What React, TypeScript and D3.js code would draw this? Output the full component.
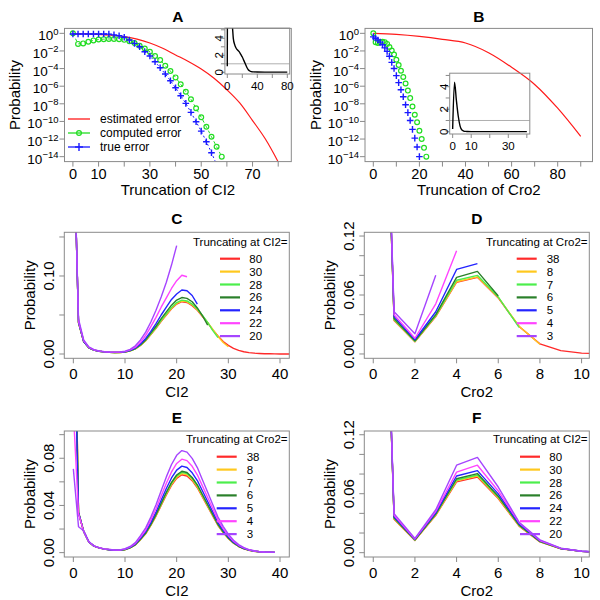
import React from "react";
import * as d3 from "d3";

const FONT = "'Liberation Sans', Arial, Helvetica, sans-serif";
const GRAY = "#8a8a8a";

// ---------------- Panel A (log10 of probability) ----------------
const aRedX = [0, 5, 10, 15, 20, 25, 30, 35, 40, 45, 50, 55, 60, 65, 70, 75, 80, 85];
const aRedLog = [-0.05, -0.07, -0.12, -0.22, -0.38, -0.65, -1.1, -1.7, -2.45, -3.2, -4.05, -5.1, -6.4, -7.9, -9.9, -12.0, -14.6, -17.5];
const aGreenX = [0, 2, 4, 6, 8, 10, 12, 14, 16, 18, 20, 22, 24, 26, 28, 30, 32, 34, 36, 38, 40, 42, 44, 46, 48, 50, 52, 54, 56, 58];
const aGreenLog = [0, -1.2, -1.14, -0.95, -0.8, -0.7, -0.66, -0.64, -0.64, -0.66, -0.74, -0.9, -1.1, -1.4, -1.72, -2.09, -2.58, -3.03, -3.68, -4.28, -5.0, -5.79, -6.63, -7.49, -8.51, -9.53, -10.6, -11.74, -12.87, -14.0];
const aBlueX = [0, 2, 4, 6, 8, 10, 12, 14, 16, 18, 20, 22, 24, 26, 28, 30, 32, 34, 36, 38, 40, 42, 44, 46, 48, 50, 52, 54, 56];
const aBlueLog = [-0.08, -0.08, -0.08, -0.08, -0.08, -0.08, -0.08, -0.09, -0.18, -0.28, -0.45, -0.75, -1.14, -1.52, -2.09, -2.58, -3.22, -3.9, -4.62, -5.38, -6.17, -7.08, -7.95, -8.97, -10.03, -11.1, -12.3, -13.55, -14.9];
const aInsetX = [0, 1, 3, 5, 7, 8, 10, 12, 14, 16, 18, 20, 22, 24, 26, 28, 30, 32, 35, 40, 50, 60, 70, 80];
const aInsetY = [0.7, 30, 12, 8, 5.2, 4.0, 3.2, 2.8, 2.6, 2.4, 2.1, 1.8, 1.4, 1.0, 0.6, 0.3, 0.15, 0.08, 0.05, 0.03, 0.02, 0.02, 0.02, 0.02];

// ---------------- Panel B ----------------
const bRedX = [0, 10, 20, 30, 40, 50, 60, 70, 80, 90];
const bRedLog = [0, -0.12, -0.35, -0.68, -1.1, -2.2, -3.85, -5.8, -8.5, -11.7];
const bGreenX = [0, 1, 2, 3, 4, 5, 6, 7, 8, 9, 10, 11, 12, 13, 14, 15, 16, 17, 18, 19, 20, 21, 22, 23];
const bGreenLog = [0, -1.0, -1.1, -1.0, -0.95, -1.0, -1.2, -1.55, -1.95, -2.4, -3.0, -3.6, -4.25, -4.95, -5.7, -6.5, -7.35, -8.3, -9.25, -10.1, -11.05, -12.0, -13.0, -14.0];
const bBlueX = [0, 1, 2, 3, 4, 5, 6, 7, 8, 9, 10, 11, 12, 13, 14, 15, 16, 17, 18, 19, 20];
const bBlueLog = [-0.4, -0.55, -0.75, -1.0, -1.3, -1.65, -2.05, -2.6, -3.3, -4.0, -4.8, -5.6, -6.4, -7.2, -8.1, -9.0, -9.9, -10.9, -11.9, -12.9, -14.0];
const bInsetX = [0, 1, 2, 3, 4, 5, 6, 7, 8, 10, 15, 20, 30, 40];
const bInsetY = [0.25, 4.4, 2.8, 1.4, 0.5, 0.15, 0.06, 0.03, 0.02, 0.01, 0.01, 0.01, 0.01, 0.01];

const legendA = ["estimated error", "computed error", "true error"];

// ---------------- Panels C–F ----------------
const truncCI2 = ["80", "30", "28", "26", "24", "22", "20"];
const truncCro2 = ["38", "8", "7", "6", "5", "4", "3"];
const COLORS = ["#ff2a2a", "#ffc81e", "#4cee4c", "#2a802a", "#2424ff", "#ff44ff", "#a545ff"];

// C: distribution over CI2 (index = CI2), truncating at CI2
const cRed = [0.30, 0.040, 0.016, 0.008, 0.005, 0.0035, 0.0028, 0.0022, 0.002, 0.002, 0.0025, 0.004, 0.0065, 0.011, 0.017, 0.025, 0.033, 0.042, 0.05, 0.058, 0.064, 0.067, 0.066, 0.062, 0.056, 0.048, 0.040, 0.031, 0.023, 0.016, 0.011, 0.0072, 0.0046, 0.0029, 0.0018, 0.0011, 0.0007, 0.0004, 0.00025, 0.00015, 0.0001, 0.00005, 0.00003, 0.00002];
const cOrange = [0.30, 0.040, 0.016, 0.008, 0.005, 0.0035, 0.0028, 0.0022, 0.002, 0.002, 0.0025, 0.004, 0.0066, 0.0112, 0.0172, 0.0253, 0.0334, 0.0425, 0.0506, 0.0587, 0.0648, 0.0678, 0.0668, 0.0628, 0.0567, 0.0486, 0.0405, 0.0314, 0.0225, 0.0148, 0.0092];
const cLGreen = [0.30, 0.040, 0.016, 0.008, 0.005, 0.0035, 0.0028, 0.0022, 0.002, 0.002, 0.0026, 0.0041, 0.0067, 0.0113, 0.0175, 0.0258, 0.034, 0.0433, 0.0515, 0.0597, 0.0659, 0.069, 0.068, 0.0639, 0.0577, 0.0494, 0.0405, 0.030, 0.021];
const cDGreen = [0.30, 0.041, 0.016, 0.008, 0.005, 0.0035, 0.0028, 0.0022, 0.002, 0.0021, 0.0027, 0.0043, 0.007, 0.0119, 0.0184, 0.027, 0.0356, 0.0454, 0.054, 0.0626, 0.0691, 0.0724, 0.0713, 0.067, 0.059, 0.049, 0.037];
const cBlue = [0.30, 0.041, 0.016, 0.0082, 0.005, 0.0036, 0.0028, 0.0023, 0.0021, 0.0022, 0.0028, 0.0046, 0.0076, 0.013, 0.020, 0.029, 0.039, 0.05, 0.06, 0.07, 0.077, 0.082, 0.081, 0.075, 0.064];
const cMagenta = [0.30, 0.042, 0.017, 0.0085, 0.0052, 0.0037, 0.0029, 0.0024, 0.0022, 0.0024, 0.0031, 0.0052, 0.0088, 0.015, 0.024, 0.035, 0.047, 0.06, 0.072, 0.084, 0.094, 0.101, 0.099];
const cPurple = [0.30, 0.045, 0.018, 0.009, 0.0055, 0.004, 0.0031, 0.0026, 0.0024, 0.0027, 0.0036, 0.006, 0.0105, 0.018, 0.028, 0.041, 0.056, 0.073, 0.092, 0.114, 0.139];

// D: distribution over Cro2, truncating at Cro2
const dRed = [0.7, 0.034, 0.0125, 0.038, 0.073, 0.078, 0.057, 0.028, 0.0103, 0.0034, 0.0009, 0.0002];
const dOrange = [0.7, 0.0345, 0.0127, 0.0385, 0.0735, 0.0785, 0.0575, 0.0282, 0.0098];
const dLGreen = [0.7, 0.035, 0.013, 0.039, 0.075, 0.080, 0.058, 0.027];
const dDGreen = [0.7, 0.036, 0.0135, 0.040, 0.078, 0.084, 0.059];
const dBlue = [0.7, 0.038, 0.0145, 0.043, 0.086, 0.092];
const dMagenta = [0.7, 0.040, 0.016, 0.051, 0.105];
const dPurple = [0.7, 0.043, 0.0205, 0.080];

// E: distribution over CI2, truncating at Cro2
const eRed = [0.30, 0.034, 0.018, 0.009, 0.0055, 0.004, 0.003, 0.0025, 0.002, 0.002, 0.0025, 0.004, 0.0065, 0.011, 0.016, 0.023, 0.031, 0.040, 0.049, 0.057, 0.063, 0.066, 0.065, 0.061, 0.055, 0.047, 0.039, 0.031, 0.023, 0.017, 0.012, 0.008, 0.0052, 0.0033, 0.002, 0.0012, 0.0007, 0.0004, 0.0003, 0.0002];
const eOrange = [0.30, 0.034, 0.018, 0.009, 0.0055, 0.004, 0.003, 0.0025, 0.002, 0.002, 0.0025, 0.004, 0.0066, 0.0112, 0.0162, 0.0233, 0.0315, 0.0406, 0.0497, 0.0579, 0.0639, 0.067, 0.066, 0.0619, 0.0558, 0.0477, 0.0396, 0.0315, 0.0233, 0.0173, 0.0122, 0.0081, 0.0053, 0.0034, 0.002, 0.0012, 0.0007, 0.0004, 0.0003, 0.0002];
const eLGreen = [0.29, 0.034, 0.018, 0.009, 0.0055, 0.004, 0.003, 0.0025, 0.002, 0.002, 0.0026, 0.0041, 0.0067, 0.0113, 0.0165, 0.0237, 0.0319, 0.0412, 0.0505, 0.0587, 0.0649, 0.068, 0.067, 0.0628, 0.0567, 0.0484, 0.0402, 0.0319, 0.0237, 0.0175, 0.0124, 0.0082, 0.0054, 0.0034, 0.0021, 0.0012, 0.0007, 0.0004, 0.0003, 0.0002];
const eDGreen = [0.27, 0.034, 0.018, 0.009, 0.0055, 0.004, 0.003, 0.0025, 0.002, 0.002, 0.0026, 0.0042, 0.0068, 0.0115, 0.0167, 0.024, 0.0324, 0.0418, 0.0512, 0.0596, 0.0658, 0.069, 0.0679, 0.0637, 0.0575, 0.0491, 0.0408, 0.0324, 0.024, 0.0178, 0.0125, 0.0084, 0.0054, 0.0034, 0.0021, 0.0013, 0.0007, 0.0004, 0.0003, 0.0002];
const eBlue = [0.23, 0.034, 0.018, 0.009, 0.0055, 0.004, 0.003, 0.0025, 0.002, 0.0021, 0.0028, 0.0044, 0.0072, 0.0122, 0.0178, 0.0255, 0.0344, 0.0444, 0.0544, 0.0633, 0.0699, 0.0733, 0.0722, 0.0677, 0.0611, 0.0522, 0.0433, 0.0344, 0.0255, 0.0189, 0.0133, 0.0089, 0.0058, 0.0037, 0.0022, 0.0013, 0.0008, 0.0004, 0.0003, 0.0002];
const eMagenta = [0.12, 0.033, 0.018, 0.009, 0.0056, 0.0041, 0.0031, 0.0026, 0.0021, 0.0022, 0.003, 0.0048, 0.0078, 0.0132, 0.0192, 0.0276, 0.0372, 0.048, 0.0588, 0.0684, 0.0756, 0.0792, 0.078, 0.0732, 0.066, 0.0564, 0.0468, 0.0372, 0.0276, 0.0204, 0.0144, 0.0096, 0.0062, 0.004, 0.0024, 0.0014, 0.0008, 0.0005, 0.0004, 0.0002];
const ePurple = [0.071, 0.022, 0.0185, 0.0095, 0.0058, 0.0042, 0.0032, 0.0027, 0.0022, 0.0023, 0.0033, 0.0052, 0.0085, 0.0144, 0.021, 0.0301, 0.0406, 0.0524, 0.0642, 0.0747, 0.0825, 0.0865, 0.0852, 0.0799, 0.0721, 0.0616, 0.0511, 0.0406, 0.0301, 0.0223, 0.0157, 0.0105, 0.0068, 0.0043, 0.0026, 0.0016, 0.0009, 0.0005, 0.0004, 0.0003];

// F: distribution over Cro2, truncating at CI2
const fRed = [0.7, 0.034, 0.0125, 0.038, 0.072, 0.077, 0.055, 0.027, 0.011, 0.004, 0.0013, 0.0004];
const fOrange = [0.7, 0.0345, 0.0127, 0.0385, 0.073, 0.078, 0.0558, 0.0274, 0.0112, 0.0041, 0.0013, 0.0004];
const fLGreen = [0.7, 0.035, 0.013, 0.039, 0.074, 0.079, 0.0567, 0.0278, 0.0113, 0.0041, 0.0013, 0.0004];
const fDGreen = [0.7, 0.0355, 0.0132, 0.0395, 0.0752, 0.0805, 0.0575, 0.0282, 0.0115, 0.0042, 0.0014, 0.0004];
const fBlue = [0.7, 0.0365, 0.0135, 0.0405, 0.078, 0.0835, 0.0598, 0.0293, 0.012, 0.0043, 0.0014, 0.0004];
const fMagenta = [0.7, 0.038, 0.014, 0.042, 0.082, 0.089, 0.0628, 0.0305, 0.0124, 0.0044, 0.0014, 0.0004];
const fPurple = [0.7, 0.0397, 0.0145, 0.0437, 0.089, 0.097, 0.0668, 0.031, 0.013, 0.0046, 0.0015, 0.0004];

type Box = { x0: number; x1: number; y0: number; y1: number };

const GREEN = "#22dd22";
const BLUE = "#1a1aff";
const RED = "#ff1a1a";

function Plus({ x, y, s = 3.3 }: { x: number; y: number; s?: number }) {
  return (
    <g stroke={BLUE} strokeWidth={1.4}>
      <line x1={x - s} x2={x + s} y1={y} y2={y} />
      <line x1={x} x2={x} y1={y - s} y2={y + s} />
    </g>
  );
}

function Inset(p: {
  id: string; xDom: [number, number]; xRange: [number, number];
  yRange: [number, number]; xTicks: number[]; xLabels: number[];
  xs: number[]; ys: number[];
}) {
  const sx = d3.scaleLinear().domain(p.xDom).range(p.xRange);
  const sy = d3.scaleLinear().domain([-0.2, 5.2]).range(p.yRange);
  const x0 = p.xRange[0], x1 = p.xRange[1], yb = p.yRange[0], yt = p.yRange[1];
  const line = d3.line<number>().x((_, i) => sx(p.xs[i])).y((d) => sy(d)).curve(d3.curveMonotoneX);
  const yTicks = [0, 1, 2, 3, 4, 5];
  return (
    <g>
      <defs>
        <clipPath id={p.id}><rect x={x0} y={yt} width={x1 - x0} height={yb - yt} /></clipPath>
      </defs>
      <g clipPath={`url(#${p.id})`}>
        <line x1={x0} x2={x1} y1={sy(1)} y2={sy(1)} stroke="#b0b0b0" strokeWidth={1} />
        <path d={line(p.ys) || ""} fill="none" stroke="#000" strokeWidth={1.4} />
      </g>
      <rect x={x0} y={yt} width={x1 - x0} height={yb - yt} fill="none" stroke={GRAY} strokeWidth={1} />
      {p.xTicks.map((t) => (
        <line key={"xt" + t} x1={sx(t)} x2={sx(t)} y1={yb} y2={yb + 4} stroke={GRAY} />
      ))}
      {p.xLabels.map((t) => (
        <text key={"xl" + t} x={sx(t)} y={yb + 12} textAnchor="middle" dominantBaseline="central" fontSize={11.5}>{t}</text>
      ))}
      {yTicks.map((t) => (
        <line key={"yt" + t} x1={x0} x2={x0 - 4} y1={sy(t)} y2={sy(t)} stroke={GRAY} />
      ))}
      {[0, 2, 4].map((t) => (
        <text key={"yl" + t} x={x0 - 6} y={sy(t)} textAnchor="middle" dominantBaseline="central" fontSize={11.5}
          transform={`rotate(-90 ${x0 - 6} ${sy(t)})`}>{t}</text>
      ))}
    </g>
  );
}

function LogPanel(p: {
  id: string; box: Box; xDom: [number, number]; xTicks: number[]; xLabels: number[];
  title: string; xTitle: string;
  redX: number[]; redLog: number[]; greenX: number[]; greenLog: number[]; blueX: number[]; blueLog: number[];
  connect: boolean; legend: boolean; children?: React.ReactNode;
}) {
  const { box } = p;
  const sx = d3.scaleLinear().domain(p.xDom).range([box.x0, box.x1]);
  const sy = d3.scaleLog().domain([Math.pow(10, -14.56), Math.pow(10, 0.56)]).range([box.y1, box.y0]);
  const yl = (v: number) => sy(Math.pow(10, v));
  const redLine = d3.line<number>().x((_, i) => sx(p.redX[i])).y((d) => yl(d)).curve(d3.curveMonotoneX);
  const gLine = d3.line<number>().x((_, i) => sx(p.greenX[i])).y((d) => yl(d));
  const bLine = d3.line<number>().x((_, i) => sx(p.blueX[i])).y((d) => yl(d));
  const exps = [0, -2, -4, -6, -8, -10, -12, -14];
  const cx = (box.x0 + box.x1) / 2, cy = (box.y0 + box.y1) / 2;
  return (
    <g>
      <defs>
        <clipPath id={p.id}><rect x={box.x0} y={box.y0} width={box.x1 - box.x0} height={box.y1 - box.y0} /></clipPath>
      </defs>
      <g clipPath={`url(#${p.id})`}>
        <path d={redLine(p.redLog) || ""} fill="none" stroke={RED} strokeWidth={1.2} />
        {p.connect && <path d={gLine(p.greenLog) || ""} fill="none" stroke={GREEN} strokeWidth={1} strokeDasharray="3,3" />}
        {p.connect && <path d={bLine(p.blueLog) || ""} fill="none" stroke={BLUE} strokeWidth={1} strokeDasharray="2,2.5" />}
        {p.greenLog.map((v, i) => (
          <circle key={"g" + i} cx={sx(p.greenX[i])} cy={yl(v)} r={2.4} fill="none" stroke={GREEN} strokeWidth={1.2} />
        ))}
        {p.blueLog.map((v, i) => (
          <Plus key={"b" + i} x={sx(p.blueX[i])} y={yl(v)} />
        ))}
      </g>
      <rect x={box.x0} y={box.y0} width={box.x1 - box.x0} height={box.y1 - box.y0} fill="none" stroke={GRAY} strokeWidth={1} />
      {p.xTicks.map((t) => (
        <line key={"xt" + t} x1={sx(t)} x2={sx(t)} y1={box.y1} y2={box.y1 + 5} stroke={GRAY} />
      ))}
      {p.xLabels.map((t) => (
        <text key={"xl" + t} x={sx(t)} y={box.y1 + 12.5} textAnchor="middle" dominantBaseline="central" fontSize={14.5}>{t}</text>
      ))}
      {exps.map((e) => (
        <line key={"yt" + e} x1={box.x0} x2={box.x0 - 5} y1={yl(e)} y2={yl(e)} stroke={GRAY} />
      ))}
      {exps.map((e) => (
        <text key={"yl" + e} x={box.x0 - 6} y={yl(e) + 2.5} textAnchor="end" dominantBaseline="central" fontSize={13.5}>
          10<tspan dy={-5} fontSize={9.5}>{e === 0 ? "0" : "\u2212" + -e}</tspan>
        </text>
      ))}
      <text x={cx} y={box.y0 - 12} textAnchor="middle" dominantBaseline="central" fontSize={15.5} fontWeight="bold">{p.title}</text>
      <text x={cx} y={box.y1 + 28} textAnchor="middle" dominantBaseline="central" fontSize={15}>{p.xTitle}</text>
      <text x={box.x0 - 50} y={cy} textAnchor="middle" dominantBaseline="central" fontSize={15}
        transform={`rotate(-90 ${box.x0 - 50} ${cy})`}>Probability</text>
      {p.legend && (
        <g fontSize={12}>
          {legendA.map((lab, i) => {
            const y = 119 + i * 14;
            const col = [RED, GREEN, BLUE][i];
            return (
              <g key={lab}>
                <line x1={68} x2={90} y1={y} y2={y} stroke={col} strokeWidth={1.3} />
                {i === 1 && <circle cx={79} cy={y} r={2.4} fill="none" stroke={GREEN} strokeWidth={1.2} />}
                {i === 2 && <Plus x={79} y={y} s={4} />}
                <text x={100} y={y} dominantBaseline="central">{lab}</text>
              </g>
            );
          })}
        </g>
      )}
      {p.children}
    </g>
  );
}

function LinePanel(p: {
  id: string; box: Box; xDom: [number, number]; yDom: [number, number];
  xTicks: number[]; yTicks: number[]; yLabels: number[];
  series: number[][]; title: string; xTitle: string;
  legendTitle: string; legendLabels: string[];
  leg: { titleRight: number; titleY: number; lx0: number; lx1: number; tx: number; y0: number; dy: number };
}) {
  const { box, leg } = p;
  const sx = d3.scaleLinear().domain(p.xDom).range([box.x0, box.x1]);
  const sy = d3.scaleLinear().domain(p.yDom).range([box.y1, box.y0]);
  const line = d3.line<number>().x((_, i) => sx(i)).y((d) => sy(d));
  const cx = (box.x0 + box.x1) / 2, cy = (box.y0 + box.y1) / 2;
  return (
    <g>
      <defs>
        <clipPath id={p.id}><rect x={box.x0} y={box.y0} width={box.x1 - box.x0} height={box.y1 - box.y0} /></clipPath>
      </defs>
      <g clipPath={`url(#${p.id})`}>
        {p.series.map((s, i) => (
          <path key={i} d={line(s) || ""} fill="none" stroke={COLORS[i]} strokeWidth={1.4} strokeLinejoin="round" />
        ))}
      </g>
      <rect x={box.x0} y={box.y0} width={box.x1 - box.x0} height={box.y1 - box.y0} fill="none" stroke={GRAY} strokeWidth={1} />
      {p.xTicks.map((t) => (
        <g key={"x" + t}>
          <line x1={sx(t)} x2={sx(t)} y1={box.y1} y2={box.y1 + 5} stroke={GRAY} />
          <text x={sx(t)} y={box.y1 + 15} textAnchor="middle" dominantBaseline="central" fontSize={15}>{t}</text>
        </g>
      ))}
      {p.yTicks.map((t) => (
        <line key={"yt" + t} x1={box.x0} x2={box.x0 - 5} y1={sy(t)} y2={sy(t)} stroke={GRAY} />
      ))}
      {p.yLabels.map((t) => (
        <text key={"yl" + t} x={box.x0 - 16} y={sy(t)} textAnchor="middle" dominantBaseline="central" fontSize={15}
          transform={`rotate(-90 ${box.x0 - 16} ${sy(t)})`}>{t.toFixed(2)}</text>
      ))}
      <text x={cx} y={box.y0 - 14} textAnchor="middle" dominantBaseline="central" fontSize={15.5} fontWeight="bold">{p.title}</text>
      <text x={cx} y={box.y1 + 33} textAnchor="middle" dominantBaseline="central" fontSize={15}>{p.xTitle}</text>
      <text x={box.x0 - 35} y={cy} textAnchor="middle" dominantBaseline="central" fontSize={15}
        transform={`rotate(-90 ${box.x0 - 35} ${cy})`}>Probability</text>
      <g fontSize={11.5}>
        <text x={leg.titleRight} y={leg.titleY} textAnchor="end" dominantBaseline="central">{p.legendTitle}</text>
        {p.legendLabels.map((lab, i) => {
          const y = leg.y0 + i * leg.dy;
          return (
            <g key={lab}>
              <line x1={leg.lx0} x2={leg.lx1} y1={y} y2={y} stroke={COLORS[i]} strokeWidth={2.2} />
              <text x={leg.tx} y={y} dominantBaseline="central">{lab}</text>
            </g>
          );
        })}
      </g>
    </g>
  );
}

export default function App() {
  const boxA: Box = { x0: 64.5, x1: 291.3, y0: 28.4, y1: 161.6 };
  const boxB: Box = { x0: 365, x1: 592.5, y0: 28.4, y1: 161.6 };
  const boxC: Box = { x0: 64.3, x1: 289.3, y0: 232.3, y1: 358.3 };
  const boxD: Box = { x0: 364.3, x1: 589.3, y0: 232.3, y1: 358.3 };
  const boxE: Box = { x0: 64.3, x1: 289.3, y0: 431, y1: 557 };
  const boxF: Box = { x0: 364.3, x1: 589.3, y0: 431, y1: 557 };
  return (
    <svg width={600} height={600} viewBox="0 0 600 600" fontFamily={FONT}
      style={{ position: "absolute", left: 0, top: 0, background: "#fff" }}>
      <rect width={600} height={600} fill="#fff" />
      <LogPanel id="clipA" box={boxA} xDom={[-3.28, 85.1]} xTicks={[0, 10, 20, 30, 40, 50, 60, 70, 80]}
        xLabels={[0, 10, 30, 50, 70]} title="A" xTitle="Truncation of CI2"
        redX={aRedX} redLog={aRedLog} greenX={aGreenX} greenLog={aGreenLog} blueX={aBlueX} blueLog={aBlueLog}
        connect={true} legend={true}>
        <Inset id="clipAi" xDom={[-3.2, 83.2]} xRange={[224.9, 289.7]} yRange={[74, 28.1]}
          xTicks={[0, 20, 40, 60, 80]} xLabels={[0, 40, 80]} xs={aInsetX} ys={aInsetY} />
      </LogPanel>
      <LogPanel id="clipB" box={boxB} xDom={[-3.6, 95.1]} xTicks={[0, 10, 20, 30, 40, 50, 60, 70, 80, 90]}
        xLabels={[0, 20, 40, 60, 80]} title="B" xTitle="Truncation of Cro2"
        redX={bRedX} redLog={bRedLog} greenX={bGreenX} greenLog={bGreenLog} blueX={bBlueX} blueLog={bBlueLog}
        connect={false} legend={false}>
        <Inset id="clipBi" xDom={[-1.6, 41.6]} xRange={[449.7, 529.8]} yRange={[134, 73.2]}
          xTicks={[0, 10, 20, 30, 40]} xLabels={[0, 10, 30]} xs={bInsetX} ys={bInsetY} />
      </LogPanel>
      <LinePanel id="clipC" box={boxC} xDom={[-1.75, 41.8]} yDom={[-0.0055, 0.156]}
        xTicks={[0, 10, 20, 30, 40]} yTicks={[0, 0.05, 0.1, 0.15]} yLabels={[0, 0.1]}
        series={[cRed, cOrange, cLGreen, cDGreen, cBlue, cMagenta, cPurple]} title="C" xTitle="CI2"
        legendTitle="Truncating at CI2=" legendLabels={truncCI2}
        leg={{ titleRight: 287.5, titleY: 241.7, lx0: 220, lx1: 240, tx: 249.3, y0: 258.7, dy: 12.9 }} />
      <LinePanel id="clipD" box={boxD} xDom={[-0.43, 10.37]} yDom={[-0.0044, 0.1238]}
        xTicks={[0, 2, 4, 6, 8, 10]} yTicks={[0, 0.02, 0.04, 0.06, 0.08, 0.1, 0.12]} yLabels={[0, 0.06, 0.12]}
        series={[dRed, dOrange, dLGreen, dDGreen, dBlue, dMagenta, dPurple]} title="D" xTitle="Cro2"
        legendTitle="Truncating at Cro2=" legendLabels={truncCro2}
        leg={{ titleRight: 587.5, titleY: 241.7, lx0: 516.7, lx1: 536.7, tx: 546.7, y0: 258.7, dy: 12.9 }} />
      <LinePanel id="clipE" box={boxE} xDom={[-1.75, 41.8]} yDom={[-0.0037, 0.1031]}
        xTicks={[0, 10, 20, 30, 40]} yTicks={[0, 0.02, 0.04, 0.06, 0.08, 0.1]} yLabels={[0, 0.04, 0.08]}
        series={[eRed, eOrange, eLGreen, eDGreen, eBlue, eMagenta, ePurple]} title="E" xTitle="CI2"
        legendTitle="Truncating at Cro2=" legendLabels={truncCro2}
        leg={{ titleRight: 287.5, titleY: 439.3, lx0: 216.7, lx1: 236.7, tx: 246.7, y0: 456.7, dy: 12.9 }} />
      <LinePanel id="clipF" box={boxF} xDom={[-0.43, 10.37]} yDom={[-0.0044, 0.1238]}
        xTicks={[0, 2, 4, 6, 8, 10]} yTicks={[0, 0.02, 0.04, 0.06, 0.08, 0.1, 0.12]} yLabels={[0, 0.06, 0.12]}
        series={[fRed, fOrange, fLGreen, fDGreen, fBlue, fMagenta, fPurple]} title="F" xTitle="Cro2"
        legendTitle="Truncating at CI2=" legendLabels={truncCI2}
        leg={{ titleRight: 587.5, titleY: 439.3, lx0: 520, lx1: 540, tx: 549.3, y0: 456.7, dy: 12.9 }} />
    </svg>
  );
}
